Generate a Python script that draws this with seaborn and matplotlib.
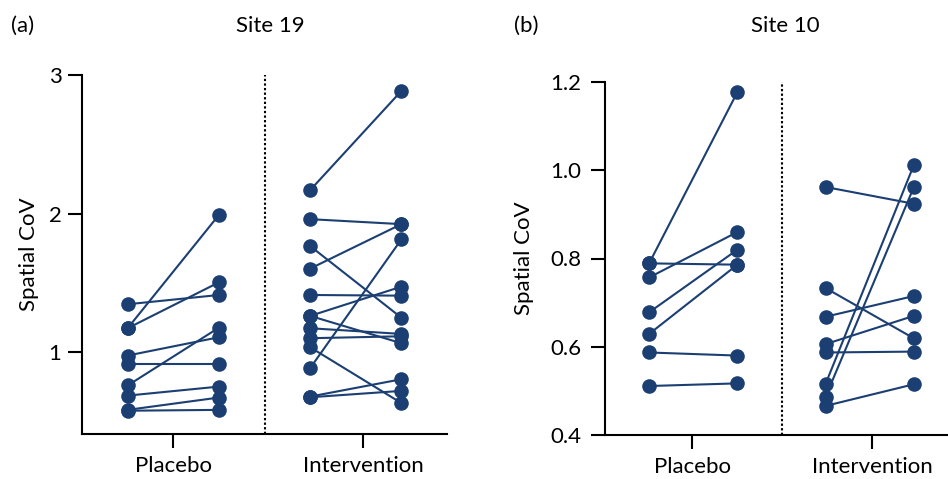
import matplotlib
matplotlib.use("Agg")
import matplotlib.pyplot as plt
import pandas as pd
import seaborn as sns

sns.set_style("ticks")
plt.rcParams["font.family"] = ["Lato", "DejaVu Sans"]
plt.rcParams["text.color"] = "black"
plt.rcParams["axes.labelcolor"] = "black"

COLOR = "#1b3f72"

# ---- Data ----
categories = ["Placebo", "Intervention"]

# Panel (a) Site 19
a_placebo_pre = [1.346, 1.173, 1.173, 0.976, 0.916, 0.760, 0.687, 0.584, 0.578]
a_placebo_post = [1.413, 1.990, 1.504, 1.108, 0.916, 1.177, 0.752, 0.673, 0.584]
a_int_pre = [2.169, 1.960, 1.766, 1.603, 1.413, 1.262, 1.262, 1.173, 1.101, 1.036, 0.885, 0.680, 0.675]
a_int_post = [2.885, 1.924, 1.249, 1.924, 1.408, 1.473, 1.065, 1.132, 1.115, 0.633, 1.814, 0.805, 0.721]
a_yticks = [1, 2, 3]
a_yticklabels = ["1", "2", "3"]

# Panel (b) Site 10
b_placebo_pre = [0.789, 0.789, 0.757, 0.678, 0.629, 0.587, 0.511]
b_placebo_post = [1.177, 0.786, 0.860, 0.820, 0.786, 0.580, 0.517]
b_int_pre = [0.962, 0.733, 0.668, 0.606, 0.587, 0.516, 0.487, 0.466]
b_int_post = [0.924, 0.619, 0.715, 0.670, 0.589, 1.012, 0.962, 0.515]
b_yticks = [0.4, 0.6, 0.8, 1.0, 1.2]
b_yticklabels = ["0.4", "0.6", "0.8", "1.0", "1.2"]


def make_long(groups):
    rows = []
    pid = 0
    for pre, post, x0 in groups:
        for v0, v1 in zip(pre, post):
            rows.append((pid, x0, v0))
            rows.append((pid, x0 + 1, v1))
            pid += 1
    return pd.DataFrame(rows, columns=["pair", "slot", "cov"])


df_a = make_long([(a_placebo_pre, a_placebo_post, 1), (a_int_pre, a_int_post, 3)])
df_b = make_long([(b_placebo_pre, b_placebo_post, 1), (b_int_pre, b_int_post, 3)])

fig = plt.figure(figsize=(9.48, 4.79), dpi=100)
axA = fig.add_axes([82 / 948, 45 / 479, 365 / 948, 359 / 479])
axB = fig.add_axes([605 / 948, 44 / 479, 353 / 948, 353 / 479])


def draw(ax, df, ylim, yticks, yticklabels, xticks, ypad, ylabel_x):
    ax.axvline(2.5, color="black", linestyle=(0, (1.1, 1.1)), linewidth=1.5, zorder=1)
    sns.lineplot(
        data=df, x="slot", y="cov", units="pair", estimator=None,
        color=COLOR, marker="o", markersize=10.5, markeredgewidth=0,
        markeredgecolor=COLOR, linewidth=1.5, ax=ax, legend=False,
        clip_on=False, zorder=3,
    )
    ax.set_xlim(0.5, 4.5)
    ax.set_ylim(*ylim)
    ax.set_yticks(yticks)
    ax.set_yticklabels(yticklabels)
    ax.set_xticks(xticks)
    ax.set_xticklabels(categories)
    ax.set_xlabel("")
    ax.set_ylabel("Spatial CoV", fontsize=16)
    ax.yaxis.set_label_coords(ylabel_x, 0.5)
    sns.despine(ax=ax)
    for s in ("left", "bottom"):
        ax.spines[s].set_linewidth(1.5)
        ax.spines[s].set_color("black")
    ax.tick_params(axis="both", length=10, width=1.5, colors="black", labelsize=16)
    ax.tick_params(axis="y", pad=ypad)
    ax.tick_params(axis="x", pad=6)


draw(axA, df_a, (0.41, 3.0), a_yticks, a_yticklabels, [1.5, 3.58], 4.8, -0.118)
draw(axB, df_b, (0.4, 1.2), b_yticks, b_yticklabels, [1.49, 3.53], 7.2, -0.2)

fig.text(11.5 / 948, 1 - 31.7 / 479, "(a)", fontsize=16, va="baseline", ha="left")
fig.text(270 / 948, 1 - 31.7 / 479, "Site 19", fontsize=16, va="baseline", ha="center")
fig.text(514 / 948, 1 - 31.7 / 479, "(b)", fontsize=16, va="baseline", ha="left")
fig.text(785 / 948, 1 - 31.7 / 479, "Site 10", fontsize=16, va="baseline", ha="center")

fig.savefig("out.png", dpi=100)
